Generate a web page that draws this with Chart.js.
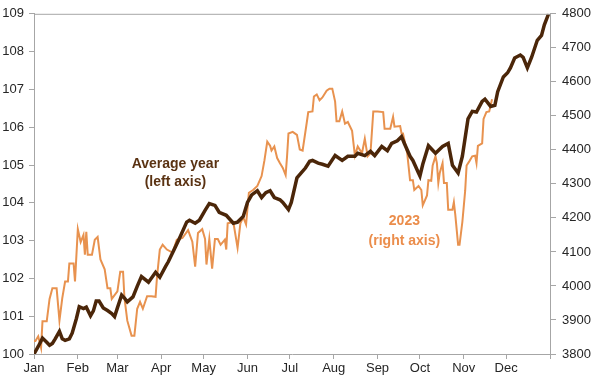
<!DOCTYPE html>
<html>
<head>
<meta charset="utf-8">
<script src="https://cdn.jsdelivr.net/npm/chart.js@4"></script>
<style>
  html, body { margin: 0; padding: 0; background: #fff; }
  canvas { display: block; }
</style>
</head>
<body>
<canvas id="chart" width="601" height="377"></canvas>
<script>
// month labels and the day-of-year where each month starts
const months = ['Jan', 'Feb', 'Mar', 'Apr', 'May', 'Jun', 'Jul', 'Aug', 'Sep', 'Oct', 'Nov', 'Dec', ''];
const monthStarts = [0, 31, 59, 90, 120, 151, 181, 212, 243, 273, 304, 334, 365];

// average year (left axis), day of year -> index
const avgDays = [0, 3, 6, 9, 11, 13, 15, 18, 20, 22, 25, 27, 30, 32, 35, 37, 40, 42, 44, 46,
  49, 52, 55, 57, 59, 62, 64, 66, 70, 73, 76, 81, 86, 89, 93, 95, 100, 103, 108, 110,
  114, 117, 121, 124, 128, 131, 136, 141, 144, 148, 151, 154, 158, 161, 164, 167, 170, 174, 176, 180,
  182, 186, 189, 192, 195, 197, 201, 204, 208, 213, 218, 222, 227, 229, 234, 238, 241, 246, 250, 253,
  257, 260, 262, 266, 268, 272, 273, 275, 279, 284, 289, 293, 296, 300, 303, 307, 310, 313, 317, 319,
  323, 326, 328, 332, 335, 337, 340, 344, 346, 349, 352, 356, 359, 361, 364];
const avgValues = [100.00, 100.20, 100.42, 100.31, 100.23, 100.28, 100.40, 100.60, 100.40, 100.36, 100.40, 100.55, 100.94, 101.25, 101.20, 101.24, 101.01, 101.14, 101.40, 101.40,
  101.22, 101.15, 101.07, 100.99, 101.22, 101.56, 101.48, 101.38, 101.51, 101.79, 102.05, 101.90, 102.16, 102.03, 102.31, 102.44, 102.83, 103.07, 103.49, 103.54,
  103.46, 103.54, 103.80, 103.98, 103.93, 103.75, 103.67, 103.46, 103.49, 103.64, 104.01, 104.21, 104.32, 104.14, 104.27, 104.32, 104.14, 104.08, 104.01, 103.82,
  104.01, 104.66, 104.79, 104.92, 105.10, 105.12, 105.05, 105.02, 104.97, 105.25, 105.12, 105.23, 105.23, 105.31, 105.25, 105.36, 105.25, 105.49, 105.38, 105.57,
  105.64, 105.75, 105.57, 105.23, 105.12, 104.79, 104.71, 105.02, 105.51, 105.31, 105.49, 105.57, 104.99, 104.79, 105.23, 106.22, 106.42, 106.40, 106.68, 106.74,
  106.55, 106.58, 106.94, 107.33, 107.44, 107.57, 107.83, 107.91, 107.85, 107.57, 107.85, 108.30, 108.43, 108.71, 109.00];

// 2023 (right axis)
const days2023 = [0, 1, 3, 5, 6, 9, 11, 13, 16, 18, 20, 22, 24, 25, 28, 29, 31, 33, 35, 36,
  37, 38, 41, 43, 45, 47, 50, 52, 54, 55, 59, 61, 63, 64, 66, 69, 71, 73, 75, 77,
  80, 83, 86, 87, 89, 91, 94, 98, 101, 105, 109, 112, 114, 116, 119, 121, 122, 124, 126, 128,
  130, 132, 135, 136, 137, 141, 144, 146, 148, 150, 152, 155, 158, 161, 163, 165, 167, 168, 170, 172,
  174, 176, 178, 179, 180, 183, 186, 188, 190, 193, 194, 197, 198, 200, 202, 204, 207, 209, 211, 213,
  214, 216, 218, 220, 222, 225, 226, 227, 229, 232, 234, 236, 238, 240, 243, 247, 248, 252, 254, 255,
  259, 260, 261, 264, 266, 268, 269, 272, 274, 275, 278, 279, 281, 282, 284, 285, 286, 287, 289, 290,
  292, 293, 296, 297, 298, 300, 301, 303, 305, 306, 308, 310, 312, 313, 314, 317, 318, 320, 322, 324];
const values2023 = [3838, 3838, 3852, 3818, 3896, 3896, 3962, 3993, 3993, 3898, 3964, 4013, 4013, 4066, 4066, 4013, 4167, 4129, 4150, 4092,
  4159, 4092, 4092, 4136, 4144, 4078, 4049, 3993, 3993, 3962, 3984, 4042, 4042, 3964, 3898, 3854, 3854, 3933, 3953, 3933,
  3970, 3970, 3968, 4026, 4107, 4121, 4107, 4098, 4136, 4141, 4164, 4130, 4057, 4156, 4167, 4138, 4063, 4138, 4051, 4138,
  4138, 4121, 4136, 4107, 4184, 4188, 4112, 4184, 4202, 4181, 4274, 4282, 4294, 4323, 4369, 4424, 4412, 4398, 4410, 4376,
  4361, 4347, 4326, 4381, 4448, 4453, 4444, 4401, 4398, 4482, 4511, 4513, 4557, 4563, 4546, 4554, 4574, 4580, 4580, 4542,
  4484, 4484, 4513, 4477, 4482, 4456, 4419, 4383, 4410, 4390, 4433, 4381, 4390, 4513, 4513, 4511, 4462, 4462, 4497, 4468,
  4470, 4448, 4448, 4390, 4311, 4311, 4282, 4294, 4282, 4237, 4266, 4311, 4309, 4354, 4381, 4361, 4303, 4332, 4361, 4303,
  4303, 4224, 4224, 4246, 4210, 4121, 4121, 4188, 4280, 4354, 4367, 4381, 4383, 4361, 4412, 4419, 4491, 4511, 4513, 4549];

const darkBrown = '#4b2609';
const orange = '#e8924f';
const axisGrey = '#a6a6a6';
const tickFont = { family: "'Liberation Sans', Arial, sans-serif", size: 13 };

// series labels written inside the plot, placed in data coordinates
const seriesLabels = [
  { lines: ['Average year', '(left axis)'], day: 100, value: 105.02, lineStep: -0.47, axis: 'yLeft', color: '#5a3212' },
  { lines: ['2023', '(right axis)'], day: 262, value: 4190, lineStep: -57, axis: 'yRight', color: '#eb8d4b' }
];

const labelPlugin = {
  id: 'seriesLabels',
  afterDatasetsDraw(chart) {
    const ctx = chart.ctx;
    const area = chart.chartArea;
    // top frame line
    ctx.save();
    ctx.strokeStyle = axisGrey;
    ctx.lineWidth = 1;
    ctx.beginPath();
    ctx.moveTo(area.left, area.top + 0.5);
    ctx.lineTo(area.right, area.top + 0.5);
    ctx.stroke();

    ctx.font = "bold 14px 'Liberation Sans', Arial, sans-serif";
    ctx.textAlign = 'center';
    ctx.textBaseline = 'middle';
    seriesLabels.forEach(lab => {
      ctx.fillStyle = lab.color;
      const x = chart.scales.x.getPixelForValue(lab.day);
      lab.lines.forEach((txt, i) => {
        const y = chart.scales[lab.axis].getPixelForValue(lab.value + i * lab.lineStep);
        ctx.fillText(txt, x, y);
      });
    });
    ctx.restore();
  }
};

const ctx = document.getElementById('chart').getContext('2d');
new Chart(ctx, {
  type: 'line',
  data: {
    datasets: [
      {
        label: 'Average year',
        data: avgDays.map((d, i) => ({ x: d, y: avgValues[i] })),
        borderColor: darkBrown,
        borderWidth: 3.5,
        pointRadius: 0,
        tension: 0,
        yAxisID: 'yLeft'
      },
      {
        label: '2023',
        data: days2023.map((d, i) => ({ x: d, y: values2023[i] })),
        borderColor: orange,
        borderWidth: 2,
        pointRadius: 0,
        tension: 0,
        yAxisID: 'yRight'
      }
    ]
  },
  options: {
    responsive: false,
    animation: false,
    devicePixelRatio: 1,
    layout: { padding: { top: 8, left: 0, right: 0, bottom: 0 } },
    plugins: {
      legend: { display: false },
      tooltip: { enabled: false }
    },
    scales: {
      x: {
        type: 'linear',
        min: 0,
        max: 365,
        afterBuildTicks: scale => { scale.ticks = monthStarts.map(v => ({ value: v })); },
        afterFit: scale => { scale.height = 23; },
        ticks: {
          callback: (v) => months[monthStarts.indexOf(v)],
          color: '#262626',
          font: tickFont,
          padding: 2,
          maxRotation: 0,
          autoSkip: false
        },
        grid: { drawOnChartArea: false, drawTicks: true, tickLength: 5, tickColor: axisGrey },
        border: { display: true, color: axisGrey }
      },
      yLeft: {
        type: 'linear',
        position: 'left',
        min: 100,
        max: 109,
        afterFit: scale => { scale.width = 34; },
        ticks: { stepSize: 1, color: '#262626', font: tickFont, padding: 5 },
        grid: { drawOnChartArea: false, drawTicks: true, tickLength: 5, tickColor: axisGrey },
        border: { display: true, color: axisGrey }
      },
      yRight: {
        type: 'linear',
        position: 'right',
        min: 3800,
        max: 4800,
        afterFit: scale => { scale.width = 51; },
        ticks: { stepSize: 100, color: '#262626', font: tickFont, padding: 6, callback: v => String(v) },
        grid: { drawOnChartArea: false, drawTicks: true, tickLength: 6, tickColor: axisGrey },
        border: { display: true, color: axisGrey }
      }
    }
  },
  plugins: [labelPlugin]
});
</script>
</body>
</html>
